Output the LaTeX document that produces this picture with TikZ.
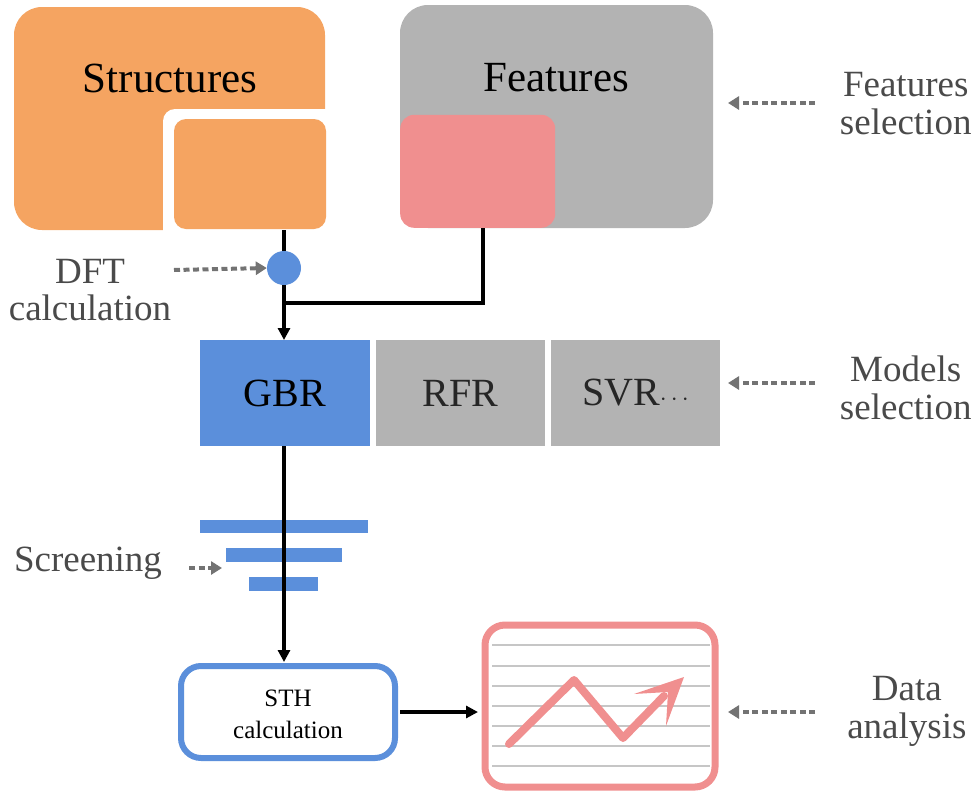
\documentclass[tikz,border=0pt]{standalone}
\usepackage{fontspec}
\setmainfont{Liberation Serif}
\usetikzlibrary{arrows.meta}
\definecolor{org}{HTML}{F5A461}
\definecolor{gr}{HTML}{B3B3B3}
\definecolor{pk}{HTML}{F08F8F}
\definecolor{bl}{HTML}{5B8FDB}
\definecolor{tx}{HTML}{4A4A4A}
\begin{document}
\begin{tikzpicture}[x=1pt,y=-1pt,
 lab/.style={text=tx,font=\fontsize{37}{46}\selectfont,align=center},
 dots/.style={draw=gray!90!black,line width=4pt,dash pattern=on 6pt off 3.5pt,-{Triangle[length=11pt,width=13pt]}},
 conn/.style={line width=4.5pt,-{Triangle[length=12pt,width=12pt]}},
 box/.style={inner sep=0pt,font=\fontsize{40}{44}\selectfont}]
\useasboundingbox (0,0) rectangle (980,798);
% Structures
\fill[org,rounded corners=28pt] (14,7) rectangle (325,230);
\fill[white,rounded corners=12pt] (163,109) rectangle (340,240);
\fill[white] (200,109) rectangle (340,240) (163,140) rectangle (340,240);
\node[box,fill=org,rounded corners=12pt,minimum width=152pt,minimum height=110pt] (sm) at (250,174) {};
\node[font=\fontsize{43}{46}\selectfont] (st) at (170,78) {Structures};
% Features
\node[box,fill=gr,rounded corners=28pt,minimum width=313pt,minimum height=223pt] (fe) at (556.5,116.5) {};
\node[box,fill=pk,rounded corners=14pt,minimum width=155pt,minimum height=113pt,anchor=south west] (pkb) at (400,228) {};
\node[font=\fontsize{43}{46}\selectfont] at (556,78) {Features};
% DFT
\node[circle,fill=bl,minimum size=34pt,inner sep=0pt] (c) at (284,268) {};
\draw[line width=4.5pt] (284,230) -- (c);
\node[lab] (dft) at (90,290) {DFT\\[-9pt]calculation};
\draw[dots] (174,270) -- (c.west);
% Models
\node[box,fill=bl,minimum width=170pt,minimum height=106pt] (gbr) at (285,393) {GBR};
\node[box,fill=gr,minimum width=169pt,minimum height=106pt,text=black!85] (rfr) at (460.5,393) {RFR};
\node[box,fill=gr,minimum width=169pt,minimum height=106pt,text=black!85] (svr) at (635.5,393) {SVR$\cdots$};
\coordinate (j) at (284,303);
\draw[line width=4.5pt] (483,228) |- (j);
\draw[conn] (c) -- (284,340);
% screening bars
\fill[bl] (200,520) rectangle (368,533);
\fill[bl] (226,548) rectangle (342,562);
\fill[bl] (249,577) rectangle (318,591);
\node[lab] (scr) at (88,563) {Screening};
\draw[dots] (189,568) -- (222,568);
% STH
\node[draw=bl,line width=6pt,rounded corners=20pt,minimum width=214pt,minimum height=92pt,inner sep=0pt] (sth) at (288,712) {};
\node[font=\fontsize{25}{28}\selectfont,align=center] at (288,714) {STH\\[4pt]calculation};
\draw[conn] (284,446) -- (284,662);
% chart
\node[draw=pk,line width=7pt,rounded corners=20pt,minimum width=230pt,minimum height=162pt,inner sep=0pt] (ch) at (600,706) {};
\foreach \y in {645,666,686,706,726,746,766} \draw[gray!45,line width=1.2pt] (492,\y) -- (710,\y);
\draw[pk,line width=8pt,line cap=round,line join=round] (509,744) -- (574,680) -- (623,738) -- (664,696);
\fill[pk] (684,677) -- (634,694) -- (668,692) -- (666,726) -- cycle;
\draw[conn] (400,712) -- (478,712);
% side labels
\node[lab,anchor=east] (fs) at (975,104) {Features\\[-8pt]selection};
\draw[dots] (815,103) -- (728,103);
\node[lab,anchor=east] (ms) at (975,388) {Models\\[-8pt]selection};
\draw[dots] (815,383) -- (728,383);
\node[lab,anchor=east] (da) at (970,711) {Data\\[-8pt]analysis};
\draw[dots] (815,712) -- (728,712);
\end{tikzpicture}
\end{document}
